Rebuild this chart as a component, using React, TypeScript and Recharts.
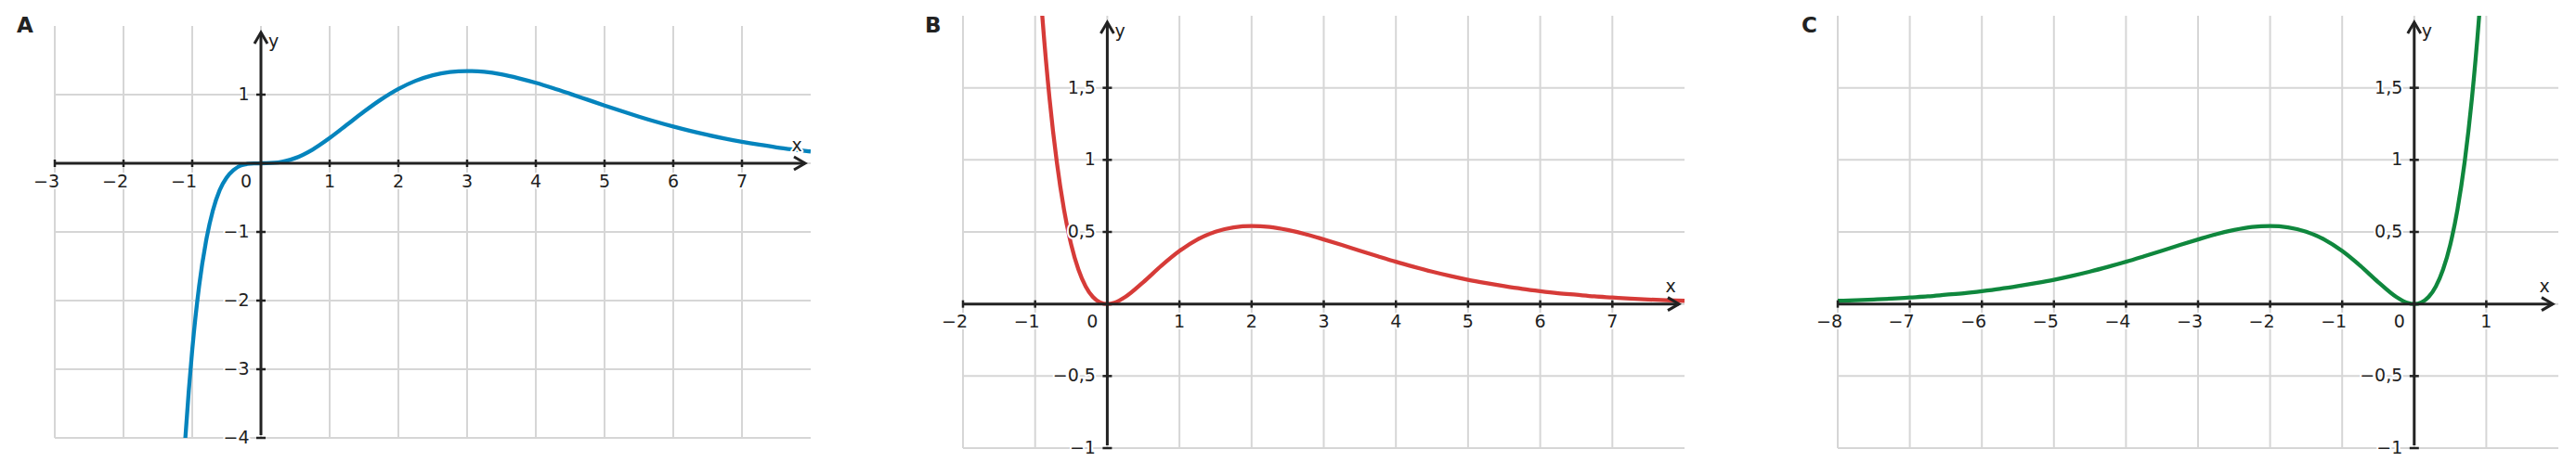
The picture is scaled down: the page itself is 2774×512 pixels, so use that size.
import { LineChart, Line, XAxis, YAxis, ReferenceLine, ReferenceDot } from 'recharts';

// panel A: curve samples
const aX = [
  -1.12, -1.1, -1.05, -1.0, -0.9, -0.8, -0.7, -0.6, -0.5, -0.4, -0.3, -0.2, -0.1, 0, 0.25, 0.5, 0.75, 1, 1.25,
  1.5, 1.75, 2, 2.25, 2.5, 2.75, 3, 3.25, 3.5, 3.75, 4, 4.25, 4.5, 4.75, 5, 5.25, 5.5, 5.75, 6, 6.25, 6.5, 6.75,
  7, 7.25, 7.5, 7.75, 8,
];
const aY = [
  -4.31, -4.0, -3.31, -2.72, -1.79, -1.14, -0.69, -0.39, -0.21, -0.1, -0.036, -0.01, -0.001, 0, 0.012, 0.076,
  0.199, 0.368, 0.56, 0.753, 0.931, 1.083, 1.201, 1.283, 1.329, 1.344, 1.332, 1.295, 1.239, 1.172, 1.095, 1.012,
  0.927, 0.842, 0.759, 0.68, 0.605, 0.535, 0.471, 0.413, 0.36, 0.313, 0.271, 0.233, 0.201, 0.172,
];
const aXTicks = [-3, -2, -1, 1, 2, 3, 4, 5, 6, 7];
const aYTicks = [-4, -3, -2, -1, 1];
const aXGrid = [-3, -2, -1, 0, 1, 2, 3, 4, 5, 6, 7];
const aYGrid = [-4, -3, -2, -1, 0, 1];

// panel B
const bX = [
  -1, -0.95, -0.9, -0.8, -0.7, -0.6, -0.5, -0.4, -0.3, -0.2, -0.1, 0, 0.1, 0.25, 0.5, 0.75, 1, 1.25, 1.5, 1.75, 2,
  2.25, 2.5, 2.75, 3, 3.25, 3.5, 3.75, 4, 4.25, 4.5, 4.75, 5, 5.25, 5.5, 5.75, 6, 6.25, 6.5, 6.75, 7, 7.25, 7.5,
  7.75, 8,
];
const bY = [
  2.718, 2.334, 1.992, 1.424, 0.987, 0.656, 0.412, 0.239, 0.122, 0.049, 0.011, 0, 0.009, 0.049, 0.152, 0.266,
  0.368, 0.448, 0.502, 0.532, 0.541, 0.534, 0.513, 0.484, 0.448, 0.41, 0.37, 0.331, 0.293, 0.258, 0.225, 0.195,
  0.168, 0.145, 0.124, 0.105, 0.089, 0.075, 0.064, 0.053, 0.045, 0.037, 0.031, 0.026, 0.022,
];
const bXTicks = [-2, -1, 1, 2, 3, 4, 5, 6, 7];
const bXGrid = [-2, -1, 0, 1, 2, 3, 4, 5, 6, 7];

// panel C
const cX = [
  -8, -7.75, -7.5, -7.25, -7, -6.75, -6.5, -6.25, -6, -5.75, -5.5, -5.25, -5, -4.75, -4.5, -4.25, -4, -3.75, -3.5,
  -3.25, -3, -2.75, -2.5, -2.25, -2, -1.75, -1.5, -1.25, -1, -0.75, -0.5, -0.25, -0.1, 0, 0.1, 0.2, 0.3, 0.4, 0.5,
  0.6, 0.7, 0.8, 0.9, 0.95, 1,
];
const cY = [
  0.022, 0.026, 0.031, 0.037, 0.045, 0.053, 0.064, 0.075, 0.089, 0.105, 0.124, 0.145, 0.168, 0.195, 0.225, 0.258,
  0.293, 0.331, 0.37, 0.41, 0.448, 0.484, 0.513, 0.534, 0.541, 0.532, 0.502, 0.448, 0.368, 0.266, 0.152, 0.049,
  0.009, 0, 0.011, 0.049, 0.122, 0.239, 0.412, 0.656, 0.987, 1.424, 1.992, 2.334, 2.718,
];
const cXTicks = [-8, -7, -6, -5, -4, -3, -2, -1, 1];
const cXGrid = [-8, -7, -6, -5, -4, -3, -2, -1, 0, 1];

// shared y for B and C
const bcYTicks = [-1, -0.5, 0.5, 1, 1.5];
const bcYGrid = [-1, -0.5, 0, 0.5, 1, 1.5];

const INK = '#222222';
const GRID = '#d6d6d6';
const FONT = '"DejaVu Sans", sans-serif';

const textStyle = {
  fontFamily: FONT,
  fontSize: 19,
  fill: INK,
  stroke: '#ffffff',
  strokeWidth: 4,
  paintOrder: 'stroke',
  strokeLinejoin: 'round',
} as const;

const fmt = (v: number) => {
  const s = Math.abs(v).toString().replace('.', ',');
  return v < 0 ? '\u2212' + s : s;
};

function HAxis(p: any) {
  const y = p.y1;
  const left = Math.min(p.x1, p.x2);
  const tip = Math.max(p.x1, p.x2) - 6;
  return (
    <g>
      <line x1={left} y1={y} x2={tip} y2={y} stroke={INK} strokeWidth={3} />
      <polyline
        points={`${tip - 12},${y - 7} ${tip},${y} ${tip - 12},${y + 7}`}
        fill="none"
        stroke={INK}
        strokeWidth={3}
      />
      <text x={tip - 9} y={y - 13} textAnchor="middle" style={textStyle}>
        x
      </text>
    </g>
  );
}

function VAxis(p: any) {
  const x = p.x1;
  const tip = Math.min(p.y1, p.y2) + 7;
  const bottom = Math.max(p.y1, p.y2) - 3;
  return (
    <g>
      <line x1={x} y1={bottom} x2={x} y2={tip} stroke={INK} strokeWidth={3} />
      <polyline
        points={`${x - 7},${tip + 12} ${x},${tip} ${x + 7},${tip + 12}`}
        fill="none"
        stroke={INK}
        strokeWidth={3}
      />
      <text x={x + 8} y={tip + 15.5} textAnchor="start" style={textStyle}>
        y
      </text>
    </g>
  );
}

const xTickShape = (v: number) => (p: any) => (
  <g>
    <line x1={p.cx} x2={p.cx} y1={p.cy - 4} y2={p.cy + 4} stroke={INK} strokeWidth={2.5} />
    <text x={v < 0 ? p.cx + 5 : p.cx} y={p.cy + 25.5} textAnchor={v < 0 ? 'end' : 'middle'} style={textStyle}>
      {fmt(v)}
    </text>
  </g>
);

const yTickShape = (v: number) => (p: any) => (
  <g>
    <line x1={p.cx - 5} x2={p.cx + 5} y1={p.cy} y2={p.cy} stroke={INK} strokeWidth={2.5} />
    <text x={p.cx - 12.5} y={p.cy + 6} textAnchor="end" style={textStyle}>
      {fmt(v)}
    </text>
  </g>
);

const originShape = (p: any) => (
  <text x={p.cx - 10} y={p.cy + 25.5} textAnchor="end" style={textStyle}>
    0
  </text>
);

interface PanelProps {
  xs: number[];
  ys: number[];
  color: string;
  xDomain: [number, number];
  yDomain: [number, number];
  xTicks: number[];
  yTicks: number[];
  xGrid: number[];
  yGrid: number[];
  width: number;
  margin: { top: number; right: number; bottom: number; left: number };
}

function Panel({ xs, ys, color, xDomain, yDomain, xTicks, yTicks, xGrid, yGrid, width, margin }: PanelProps) {
  const data = xs.map((x, i) => ({ x, y: ys[i] }));
  return (
    <LineChart width={width} height={512} data={data} margin={margin}>
      <XAxis
        dataKey="x"
        type="number"
        domain={xDomain}
        allowDataOverflow
        height={0}
        tick={false}
        tickLine={false}
        axisLine={false}
      />
      <YAxis
        type="number"
        domain={yDomain}
        allowDataOverflow
        width={0}
        tick={false}
        tickLine={false}
        axisLine={false}
      />
      {xGrid.map((g) => (
        <ReferenceLine key={`gx${g}`} x={g} stroke={GRID} strokeWidth={2} />
      ))}
      {yGrid.map((g) => (
        <ReferenceLine key={`gy${g}`} y={g} stroke={GRID} strokeWidth={2} />
      ))}
      <Line
        dataKey="y"
        type="monotone"
        stroke={color}
        strokeWidth={4.3}
        dot={false}
        isAnimationActive={false}
      />
      <ReferenceLine y={0} shape={HAxis} />
      <ReferenceLine x={0} shape={VAxis} />
      {xTicks.map((t) => (
        <ReferenceDot key={`xt${t}`} x={t} y={0} ifOverflow="visible" shape={xTickShape(t)} />
      ))}
      {yTicks.map((t) => (
        <ReferenceDot key={`yt${t}`} x={0} y={t} ifOverflow="visible" shape={yTickShape(t)} />
      ))}
      <ReferenceDot x={0} y={0} ifOverflow="visible" shape={originShape} />
    </LineChart>
  );
}

const panelLabel = {
  position: 'absolute',
  top: 15.7,
  fontFamily: FONT,
  fontWeight: 'bold',
  fontSize: 23,
  lineHeight: '22px',
  color: INK,
} as const;

export default function App() {
  return (
    <div style={{ position: 'absolute', left: 0, top: 0, width: 2774, height: 512, background: '#fff' }}>
      <div style={{ position: 'absolute', left: 0, top: 0 }}>
        <Panel
          xs={aX}
          ys={aY}
          color="#0584BD"
          xDomain={[-3, 8]}
          yDomain={[-4, 2]}
          xTicks={aXTicks}
          yTicks={aYTicks}
          xGrid={aXGrid}
          yGrid={aYGrid}
          width={900}
          margin={{ top: 28, right: 27, bottom: 40, left: 59 }}
        />
      </div>
      <div style={{ position: 'absolute', left: 960, top: 0 }}>
        <Panel
          xs={bX}
          ys={bY}
          color="#D63B38"
          xDomain={[-2, 8]}
          yDomain={[-1, 2]}
          xTicks={bXTicks}
          yTicks={bcYTicks}
          xGrid={bXGrid}
          yGrid={bcYGrid}
          width={900}
          margin={{ top: 17, right: 46, bottom: 29, left: 77 }}
        />
      </div>
      <div style={{ position: 'absolute', left: 1900, top: 0 }}>
        <Panel
          xs={cX}
          ys={cY}
          color="#0F873D"
          xDomain={[-8, 2]}
          yDomain={[-1, 2]}
          xTicks={cXTicks}
          yTicks={bcYTicks}
          xGrid={cXGrid}
          yGrid={bcYGrid}
          width={874}
          margin={{ top: 17, right: 19, bottom: 29, left: 79 }}
        />
      </div>
      <div style={{ ...panelLabel, left: 18 }}>A</div>
      <div style={{ ...panelLabel, left: 996 }}>B</div>
      <div style={{ ...panelLabel, left: 1940 }}>C</div>
    </div>
  );
}
